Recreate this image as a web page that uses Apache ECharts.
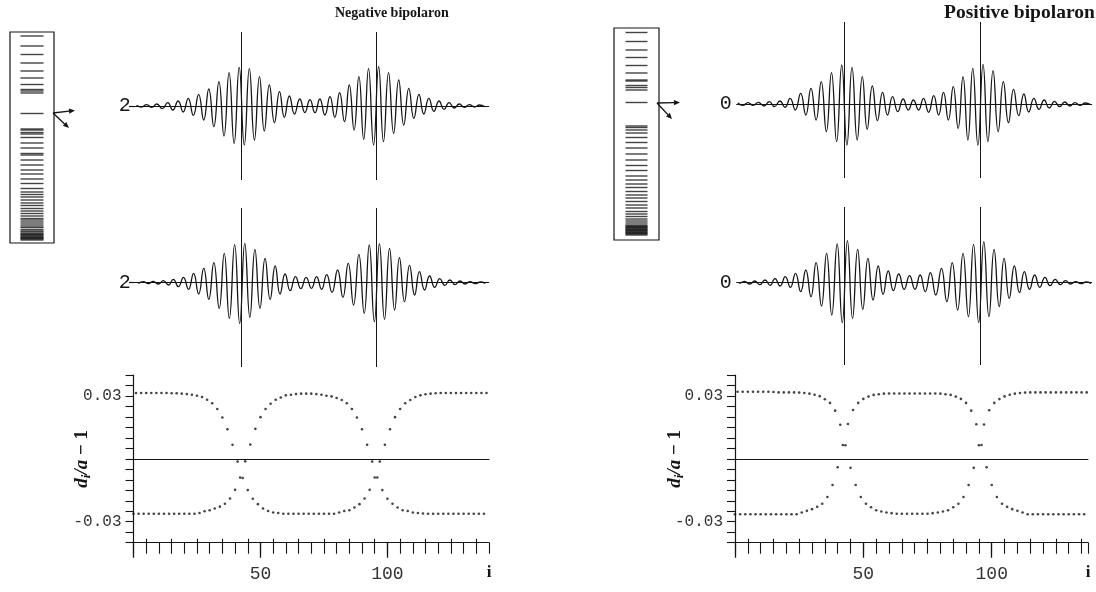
<!DOCTYPE html>
<html>
<head>
<meta charset="utf-8">
<title>Negative and positive bipolaron</title>
<script src="https://cdn.jsdelivr.net/npm/echarts@6/dist/echarts.min.js"></script>
<style>
html, body { margin: 0; padding: 0; background: #fff; }
#main { width: 1096px; height: 592px; }
</style>
</head>
<body>
<div id="main"></div>
<script>
// bipolaron centres (site index)
var centres = [42.5, 95.5];

// one-electron levels, arbitrary energy units, gap level at 0
var levelsNeg = [1.55, 1.35, 1.18, 1.01, 0.85, 0.71, 0.58, 0.48, 0.45, 0.41, 0,
    -0.31, -0.33, -0.38, -0.41, -0.48, -0.59, -0.69, -0.80, -0.83, -0.93, -1.03, -1.13,
    -1.21, -1.31, -1.40, -1.50, -1.57, -1.62, -1.67, -1.73, -1.79, -1.84, -1.90, -1.95,
    -2.00, -2.05, -2.10, -2.13, -2.17, -2.21, -2.25, -2.28, -2.32, -2.35, -2.37, -2.40,
    -2.42, -2.43, -2.45, -2.47, -2.48, -2.50, -2.51, -2.53];
var levelsPos = [1.40, 1.22, 1.05, 0.90, 0.74, 0.59, 0.45, 0.43, 0.34, 0.30, 0.25, 0,
    -0.47, -0.50, -0.55, -0.61, -0.70, -0.80, -0.91, -1.03, -1.15, -1.26, -1.36, -1.47,
    -1.55, -1.63, -1.70, -1.78, -1.85, -1.91, -1.98, -2.05, -2.11, -2.18, -2.23, -2.28,
    -2.33, -2.37, -2.41, -2.45, -2.47, -2.48, -2.50, -2.51, -2.53, -2.54, -2.56, -2.57,
    -2.59, -2.60, -2.62, -2.63, -2.65];

// sites where the gap-state wave functions have their extrema
var extremaA = [1.0, 3.0, 5.0, 7.0, 9.0, 11.2, 13.3, 15.3, 17.4, 19.4,
    21.4, 23.4, 25.5, 27.5, 29.5, 31.5, 33.5, 35.5, 37.5, 39.5,
    41.5, 43.5, 45.5, 47.5, 49.5, 51.4, 53.4, 55.4, 57.4, 59.3,
    61.3, 63.3, 65.4, 67.4, 69.4, 71.4, 73.3, 75.3, 77.3, 79.2,
    81.1, 83.0, 84.9, 86.8, 88.7, 90.6, 92.5, 94.5, 96.5, 98.4,
    100.4, 102.4, 104.4, 106.4, 108.4, 110.4, 112.4, 114.3, 116.3, 118.3,
    120.3, 122.3, 124.3, 126.3, 128.3, 130.3, 132.3, 134.3, 136.3, 138.3];
var extremaB = [1.7, 3.7, 5.7, 7.6, 9.6, 11.6, 13.6, 15.5, 17.5, 19.5,
    21.5, 23.5, 25.5, 27.5, 29.5, 31.5, 33.6, 35.6, 37.6, 39.7,
    41.7, 43.7, 45.7, 47.7, 49.7, 51.7, 53.7, 55.7, 57.6, 59.6,
    61.6, 63.7, 65.8, 67.9, 70.0, 72.0, 74.0, 76.0, 78.1, 80.3,
    82.4, 84.5, 86.6, 88.7, 90.8, 92.8, 94.8, 96.8, 98.8, 100.8,
    102.8, 104.7, 106.7, 108.7, 110.7, 112.6, 114.6, 116.6, 118.6, 120.6,
    122.6, 124.6, 126.6, 128.6, 130.6, 132.6, 134.6, 136.6, 138.6];

// wave function value at those extrema (arbitrary units)
var psiNegUpper = [2, -3, 4, -4, 6, -8, 10, -12, 15, -18,
    23, -28, 35, -42, 51, -62, 73, -90, 100, -112,
    116, -117, 112, -102, 88, -75, 63, -50, 43, -34,
    30, -24, 21, -20, 19, -20, 21, -27, 28, -34,
    40, -47, 63, -72, 88, -100, 112, -117, 118, -107,
    100, -82, 78, -57, 53, -37, 35, -24, 23, -16,
    15, -10, 10, -6, 6, -4, 4, -3, 3, -2];
var psiNegLower = [-2, 3, -3, 4, -4, 6, -7, 10, -12, 16,
    -20, 28, -34, 43, -50, 60, -77, 88, -107, 114,
    -122, 118, -104, 100, -77, 73, -50, 50, -34, 26,
    -24, 18, -18, 16, -17, 18, -20, 24, -29, 38,
    -44, 58, -67, 85, -92, 113, -117, 116, -110, 103,
    -82, 75, -57, 52, -37, 33, -22, 20, -14, 12,
    -8, 8, -6, 5, -4, 3, -3, 2, -2];
var psiPosUpper = [3, -4, 4, -4, 5, -6, 7, -8, 9, -10,
    17, -18, 32, -33, 47, -48, 67, -83, 94, -113,
    117, -123, 110, -108, 82, -76, 54, -50, 35, -33,
    22, -23, 15, -18, 12, -18, 17, -25, 25, -33,
    35, -48, 52, -73, 82, -108, 107, -123, 119, -113,
    100, -83, 67, -56, 44, -35, 30, -24, 17, -16,
    12, -12, 8, -8, 6, -6, 4, -4, 3, -2];
var psiPosLower = [-3, 4, -4, 5, -6, 8, -8, 12, -10, 18,
    -14, 28, -27, 38, -42, 60, -70, 88, -97, 116,
    -120, 126, -107, 100, -80, 73, -52, 50, -35, 35,
    -24, 26, -20, 21, -20, 23, -27, 30, -37, 43,
    -57, 60, -82, 88, -102, 115, -120, 123, -102, 100,
    -72, 73, -47, 50, -30, 33, -20, 23, -14, 16,
    -9, 10, -6, 6, -4, 3, -3, 2, -2];

// bond lengths d_i/a - 1 for sites i = 0, 1, 2, ...
var bondsNeg = [
    -0.0262, 0.0314, -0.0262, 0.0314, -0.0262, 0.0314, -0.0262, 0.0314, -0.0262, 0.0314,
    -0.0262, 0.0314, -0.0262, 0.0314, -0.0262, 0.0313, -0.0262, 0.0313, -0.0262, 0.0311,
    -0.0262, 0.0309, -0.0262, 0.0306, -0.0262, 0.0301, -0.0258, 0.0295, -0.0250, 0.0282,
    -0.0245, 0.0265, -0.0237, 0.0238, -0.0228, 0.0197, -0.0214, 0.0141, -0.0189, 0.0067,
    -0.0148, -0.0013, -0.0089, -0.0091, -0.0012, -0.0149, 0.0068, -0.0190, 0.0143, -0.0216,
    0.0199, -0.0237, 0.0238, -0.0249, 0.0263, -0.0256, 0.0282, -0.0258, 0.0293, -0.0262,
    0.0303, -0.0262, 0.0306, -0.0262, 0.0309, -0.0262, 0.0311, -0.0262, 0.0311, -0.0262,
    0.0311, -0.0262, 0.0309, -0.0262, 0.0306, -0.0262, 0.0301, -0.0262, 0.0298, -0.0262,
    0.0290, -0.0256, 0.0281, -0.0249, 0.0265, -0.0245, 0.0238, -0.0232, 0.0197, -0.0216,
    0.0141, -0.0189, 0.0067, -0.0148, -0.0013, -0.0089, -0.0089, -0.0013, -0.0149, 0.0067,
    -0.0190, 0.0141, -0.0214, 0.0199, -0.0232, 0.0238, -0.0245, 0.0265, -0.0249, 0.0281,
    -0.0256, 0.0295, -0.0258, 0.0303, -0.0261, 0.0308, -0.0262, 0.0311, -0.0262, 0.0313,
    -0.0262, 0.0314, -0.0262, 0.0314, -0.0262, 0.0314, -0.0262, 0.0314, -0.0262, 0.0314,
    -0.0262, 0.0314, -0.0262, 0.0314, -0.0262, 0.0314, -0.0262, 0.0314, -0.0262, 0.0314];
var bondsPos = [
    -0.0264, 0.0320, -0.0264, 0.0320, -0.0264, 0.0320, -0.0264, 0.0320, -0.0264, 0.0320,
    -0.0264, 0.0320, -0.0264, 0.0320, -0.0264, 0.0319, -0.0264, 0.0317, -0.0264, 0.0317,
    -0.0264, 0.0317, -0.0264, 0.0317, -0.0264, 0.0316, -0.0256, 0.0314, -0.0248, 0.0311,
    -0.0240, 0.0306, -0.0229, 0.0299, -0.0214, 0.0284, -0.0182, 0.0267, -0.0125, 0.0230,
    -0.0040, 0.0163, 0.0066, 0.0065, 0.0166, -0.0043, 0.0233, -0.0125, 0.0267, -0.0182,
    0.0286, -0.0214, 0.0297, -0.0231, 0.0305, -0.0245, 0.0308, -0.0251, 0.0311, -0.0256,
    0.0312, -0.0259, 0.0312, -0.0262, 0.0312, -0.0262, 0.0312, -0.0262, 0.0312, -0.0262,
    0.0312, -0.0262, 0.0312, -0.0262, 0.0312, -0.0262, 0.0312, -0.0259, 0.0312, -0.0256,
    0.0311, -0.0251, 0.0308, -0.0245, 0.0305, -0.0231, 0.0297, -0.0214, 0.0286, -0.0182,
    0.0267, -0.0125, 0.0230, -0.0043, 0.0165, 0.0065, 0.0066, 0.0164, -0.0040, 0.0232,
    -0.0125, 0.0267, -0.0182, 0.0285, -0.0214, 0.0298, -0.0229, 0.0306, -0.0240, 0.0311,
    -0.0248, 0.0314, -0.0256, 0.0316, -0.0264, 0.0317, -0.0264, 0.0317, -0.0264, 0.0317,
    -0.0264, 0.0317, -0.0264, 0.0317, -0.0264, 0.0317, -0.0264, 0.0317, -0.0264, 0.0317,
    -0.0264, 0.0317, -0.0264, 0.0317, -0.0264, 0.0317, -0.0264, 0.0317];

var ink = '#151515';
var monoFont = 'Liberation Mono';
var serifFont = 'Liberation Serif';

function pairs(xs, ys) {
    return ys.map(function (y, k) { return [xs[k], y]; });
}
function hiddenAxis(grid, min, max) {
    return {type: 'value', gridIndex: grid, min: min, max: max, show: false};
}
// x axis of a wave function panel: only the base line
function waveXAxis(grid, min, max) {
    return {
        type: 'value', gridIndex: grid, min: min, max: max, position: 'bottom',
        axisLine: {show: true, onZero: true, lineStyle: {color: ink, width: 1}},
        axisTick: {show: false}, axisLabel: {show: false}, splitLine: {show: false}
    };
}
// y axis of a wave function panel: just the occupation number at the base line
function waveYAxis(grid, min, max, occ, dash) {
    return {
        type: 'value', gridIndex: grid, min: min, max: max, position: 'left',
        axisLine: {show: false},
        axisTick: {show: dash, customValues: [0], length: 5, lineStyle: {color: ink, width: 1.2}},
        axisLabel: {customValues: [0], margin: dash ? 1 : 5, fontFamily: monoFont, fontSize: 20,
            color: ink, formatter: function () { return occ; }},
        splitLine: {show: false}
    };
}
// four overlaid x axes for the bond panel: ticks down, short ticks up, long ticks, zero line
function bondXAxes(grid, max) {
    var upTicks = [];
    for (var v = 5; v <= max; v += 10) upTicks.push(v);
    var common = {type: 'value', gridIndex: grid, min: 0, max: max, position: 'bottom', offset: 0,
        splitLine: {show: false}};
    return [
        Object.assign({}, common, {
            interval: 5,
            name: 'i', nameLocation: 'end', nameGap: 0, nameMoveOverlap: false,
            nameTextStyle: {fontFamily: serifFont, fontWeight: 'bold', fontSize: 17, color: ink,
                align: 'center', verticalAlign: 'top', padding: [21, 0, 0, 0]},
            axisLine: {onZero: false, lineStyle: {color: ink, width: 1.2}},
            axisTick: {length: 11, lineStyle: {color: ink, width: 1.1}},
            axisLabel: {margin: 23, fontFamily: monoFont, fontSize: 18, color: '#333',
                formatter: function (v) { return (v === 50 || v === 100) ? String(v) : ''; }}
        }),
        Object.assign({}, common, {
            axisLine: {show: false, onZero: false},
            axisTick: {inside: true, length: 4, customValues: upTicks, lineStyle: {color: ink, width: 1.1}},
            axisLabel: {show: false}
        }),
        Object.assign({}, common, {
            axisLine: {show: false, onZero: false},
            axisTick: {length: 15, customValues: [0, 50, 100], lineStyle: {color: ink, width: 1.3}},
            axisLabel: {show: false}
        }),
        Object.assign({}, common, {
            axisLine: {show: true, onZero: true, lineStyle: {color: ink, width: 1}},
            axisTick: {show: false}, axisLabel: {show: false}
        })
    ];
}
function bondYAxis(grid, gap) {
    return {
        type: 'value', gridIndex: grid, min: -0.04, max: 0.04, interval: 0.005, position: 'left',
        name: '{v|d}{s|i}{v|/a}{n| \u2212 1}', nameLocation: 'middle', nameGap: gap, nameRotate: 90,
        nameMoveOverlap: false,
        nameTextStyle: {
            color: ink,
            rich: {
                v: {fontFamily: serifFont, fontStyle: 'italic', fontWeight: 'bold', fontSize: 19, color: ink, lineHeight: 22},
                s: {fontFamily: serifFont, fontStyle: 'italic', fontWeight: 'bold', fontSize: 13, color: ink,
                    verticalAlign: 'bottom', lineHeight: 14},
                n: {fontFamily: serifFont, fontWeight: 'bold', fontSize: 19, color: ink, lineHeight: 22}
            }
        },
        axisLine: {show: true, onZero: false, lineStyle: {color: ink, width: 1.2}},
        axisTick: {length: 8, lineStyle: {color: ink, width: 1.1}},
        axisLabel: {margin: 12, fontFamily: monoFont, fontSize: 16, color: '#333',
            formatter: function (v) {
                if (Math.abs(v - 0.03) < 1e-6) return '0.03';
                if (Math.abs(v + 0.03) < 1e-6) return '-0.03';
                return '';
            }},
        splitLine: {show: false}
    };
}
function levelSeries(xAxisIndex, yAxisIndex, levels, width) {
    return {
        type: 'scatter', xAxisIndex: xAxisIndex, yAxisIndex: yAxisIndex, silent: true,
        symbol: 'rect', symbolSize: [width, 1.4], itemStyle: {color: ink},
        data: levels.map(function (e) { return [0.5, e]; })
    };
}
function waveSeries(xAxisIndex, yAxisIndex, xs, psi) {
    return {
        type: 'line', xAxisIndex: xAxisIndex, yAxisIndex: yAxisIndex, silent: true,
        showSymbol: false, smooth: 0.5, data: pairs(xs, psi),
        lineStyle: {color: ink, width: 1.3},
        markLine: {
            silent: true, symbol: ['none', 'none'], label: {show: false},
            lineStyle: {color: ink, width: 1, type: 'solid'},
            data: centres.map(function (c) { return {xAxis: c}; })
        }
    };
}
function bondSeries(xAxisIndex, yAxisIndex, bonds) {
    return {
        type: 'scatter', xAxisIndex: xAxisIndex, yAxisIndex: yAxisIndex, silent: true,
        symbol: 'circle', symbolSize: 2.6, itemStyle: {color: ink},
        data: bonds.map(function (d, i) { return [i, d]; })
    };
}
function arrow(x1, y1, x2, y2) {
    var a = Math.atan2(y2 - y1, x2 - x1), h = 6, w = 2.6;
    var bx = x2 - h * Math.cos(a), by = y2 - h * Math.sin(a);
    return [
        {type: 'line', shape: {x1: x1, y1: y1, x2: bx, y2: by}, style: {stroke: ink, lineWidth: 1.4}},
        {type: 'polygon', shape: {points: [[x2, y2],
            [bx + w * Math.sin(a), by - w * Math.cos(a)],
            [bx - w * Math.sin(a), by + w * Math.cos(a)]]}, style: {fill: ink}}
    ];
}

var boxStyle = {show: true, borderColor: ink, borderWidth: 1.2, backgroundColor: 'transparent'};

var xAxes = [
    hiddenAxis(0, 0, 1),
    waveXAxis(1, -0.9, 139.9),
    waveXAxis(2, -0.9, 139.9)
].concat(bondXAxes(3, 140)).concat([
    hiddenAxis(4, 0, 1),
    waveXAxis(5, 0.6, 138.8),
    waveXAxis(6, 0.6, 138.8)
]).concat(bondXAxes(7, 137.5));
// x axis indices: 0 L levels, 1-2 L waves, 3-6 L bonds, 7 R levels, 8-9 R waves, 10-13 R bonds

var yAxes = [
    hiddenAxis(0, -2.59, 1.63),
    waveYAxis(1, -222, 222, '2', true),
    waveYAxis(2, -253, 224, '2', true),
    bondYAxis(3, 40),
    hiddenAxis(4, -2.75, 1.49),
    waveYAxis(5, -222, 246, '0', false),
    waveYAxis(6, -247, 227, '0', false),
    bondYAxis(7, 49)
];

var dom = document.getElementById('main');
var myChart = echarts.init(dom);
var option = {
    animation: false,
    backgroundColor: '#fff',
    title: [
        {text: 'Negative bipolaron', left: 330, top: 1,
            textStyle: {fontFamily: serifFont, fontWeight: 'bold', fontSize: 14, color: ink}},
        {text: 'Positive bipolaron', left: 939, top: -2,
            textStyle: {fontFamily: serifFont, fontWeight: 'bold', fontSize: 19.5, color: ink}}
    ],
    grid: [
        Object.assign({left: 10, top: 32, width: 44, height: 211}, boxStyle),
        {left: 131.7, top: 32, width: 357, height: 148},
        {left: 131.7, top: 208, width: 357, height: 159},
        {left: 133.5, top: 375, width: 355.5, height: 167.7},
        Object.assign({left: 614, top: 28, width: 45, height: 212}, boxStyle),
        {left: 736.7, top: 22, width: 355, height: 156},
        {left: 736.7, top: 207, width: 355, height: 158},
        {left: 735, top: 375, width: 353, height: 167.7}
    ],
    xAxis: xAxes,
    yAxis: yAxes,
    series: [
        levelSeries(0, 0, levelsNeg, 23),
        waveSeries(1, 1, extremaA, psiNegUpper),
        waveSeries(2, 2, extremaB, psiNegLower),
        bondSeries(3, 3, bondsNeg),
        levelSeries(7, 4, levelsPos, 22),
        waveSeries(8, 5, extremaA, psiPosUpper),
        waveSeries(9, 6, extremaB, psiPosLower),
        bondSeries(10, 7, bondsPos)
    ],
    graphic: arrow(53, 113, 75, 110.5)
        .concat(arrow(53, 113, 69, 128))
        .concat(arrow(657, 103, 680, 102.5))
        .concat(arrow(657, 103, 672, 119))
};
myChart.setOption(option);
</script>
</body>
</html>
